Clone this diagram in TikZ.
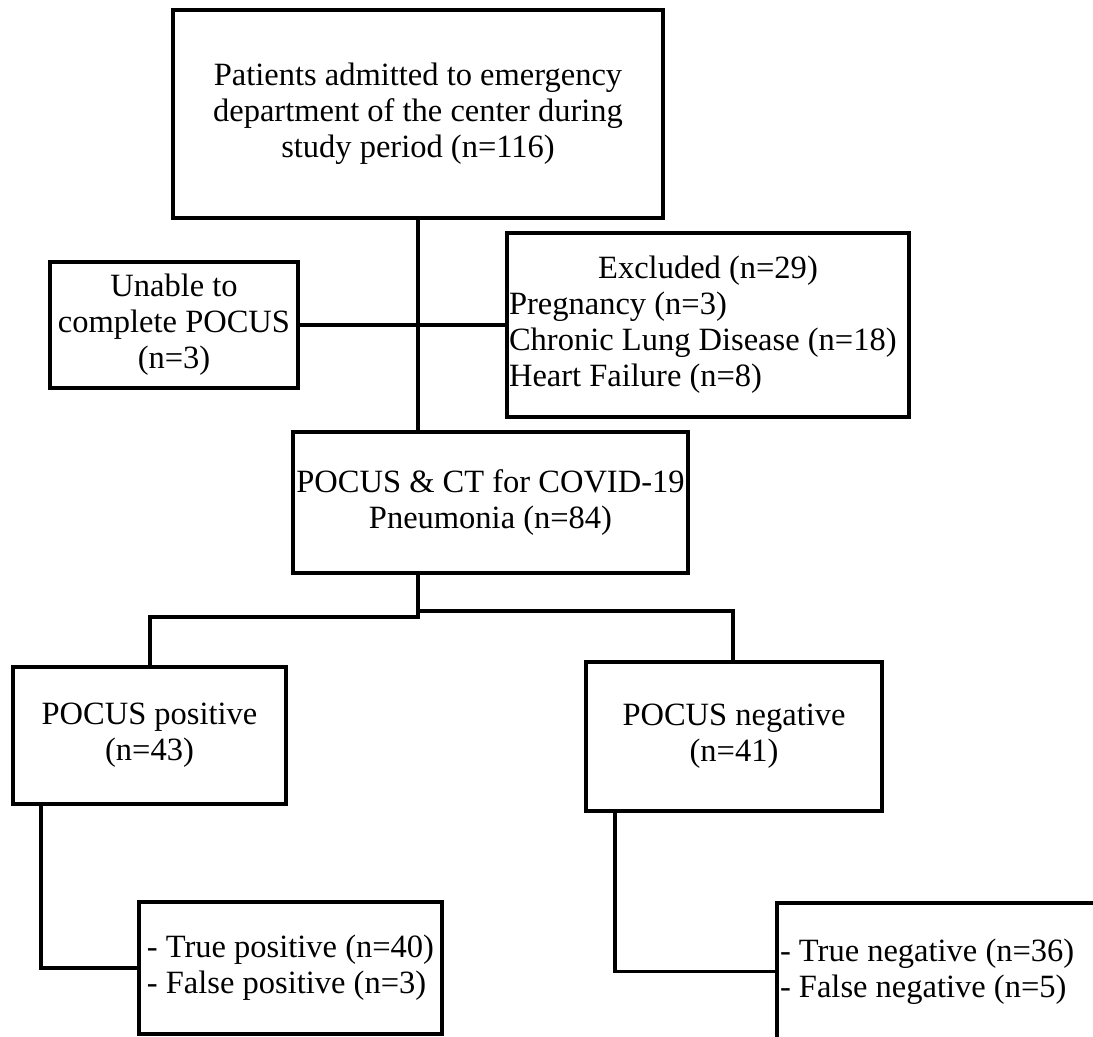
\documentclass[tikz,border=0pt]{standalone}
\usepackage{fontspec}
\setmainfont{Liberation Serif}
\usetikzlibrary{positioning}

\begin{document}
\begin{tikzpicture}[x=0.02cm, y=-0.02cm, box/.style={draw, line width=2.2pt, inner xsep=0.06cm, align=center, font=\fontsize{18.5}{20.5}\selectfont}, link/.style={line width=2pt}]
		\useasboundingbox (0,0) rectangle (1093,1036); \clip (0,0) rectangle (1093,1036);
		\node[box, minimum width=9.8cm, minimum height=4.16cm] (adm) at (418,114) {Patients admitted to emergency\\department of the center during\\study period (n=116)};
		\node[box, minimum width=4.96cm, minimum height=2.52cm] (unable) at (174,325) {Unable to\\complete POCUS\\(n=3)};
		\node[box, align=flush left, text width=7.96cm, inner xsep=0.04cm, minimum height=3.68cm] (excl) at (708,325) {\hfill Excluded (n=29)\hfill\null\\Pregnancy (n=3)\\Chronic Lung Disease (n=18)\\Heart Failure (n=8)};
		\node[box, minimum width=7.9cm, minimum height=2.82cm] (ct) at (490.5,502.5) {POCUS \& CT for COVID-19\\Pneumonia (n=84)};
		\node[box, minimum width=5.46cm, minimum height=2.74cm] (pos) at (149.5,735.5) {POCUS positive\\(n=43)};
		\node[box, minimum width=5.92cm, minimum height=2.98cm] (neg) at (734,736.5) {POCUS negative\\(n=41)};
		\node[box, align=left, inner xsep=0.02cm, minimum width=6.06cm, minimum height=2.64cm] (tp) at (290.5,968) {- True positive (n=40)\\- False positive (n=3)};
		\node[box, align=flush left, text width=6.28cm, inner xsep=0.06cm, minimum height=2.74cm] (tn) at (937,971.5) {- True negative (n=36)\\- False negative (n=5)};
		\coordinate (jl) at (150,617); \coordinate (jr) at (733,611);
		\draw[link] (adm.south) -- (adm.south |- ct.north); \draw[link] (unable.east) -- (excl.west);
		\draw[link] (ct.south -| adm.south) |- (jl) -- (jl |- pos.north); \draw[link] (ct.south -| adm.south) |- (jr) -- (jr |- neg.north);
		\draw[link] ([xshift=-2.17cm]pos.south) |- (tp.west); \draw[link] ([xshift=-2.38cm]neg.south) |- (tn.west);
	\end{tikzpicture}
\end{document}
